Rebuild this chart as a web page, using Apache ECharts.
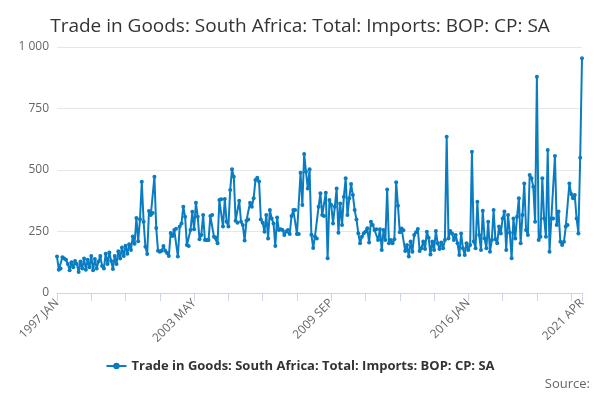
<!doctype html>
<html>
<head>
    <title>South Africa Imports</title>
    <script src="https://cdn.jsdelivr.net/npm/echarts@6/dist/echarts.min.js"></script>
</head>
<style>
    html, body { margin: 0; padding: 0; }
    #chart { width: 600px; height: 400px; }
</style>
<body>
<div id="chart"></div>
<script>
  // monthly series, 1997 JAN .. 2021 APR
  var startYear = 1997;
  var monthNames = ['JAN', 'FEB', 'MAR', 'APR', 'MAY', 'JUN', 'JUL', 'AUG', 'SEP', 'OCT', 'NOV', 'DEC'];
  var seriesName = 'Trade in Goods: South Africa: Total: Imports: BOP: CP: SA';
  var yTicks = [0, 250, 500, 750, 1000];

  var imports = [
    148, 95, 100, 145, 140, 135, 118, 92, 125, 105, 130, 118,
    85, 128, 100, 140, 95, 135, 105, 150, 92, 138, 100, 128,
    150, 110, 100, 160, 118, 165, 130, 98, 150, 118, 170, 140,
    185, 150, 192, 160, 198, 175, 230, 200, 305, 210, 300, 452,
    290, 188, 159, 333, 317, 325, 473, 264, 172, 168, 172, 191,
    172, 163, 150, 244, 232, 256, 261, 148, 270, 283, 351, 310,
    195, 191, 256, 330, 259, 367, 310, 218, 236, 317, 215, 215,
    215, 313, 317, 229, 226, 202, 378, 381, 270, 382, 290, 270,
    419, 503, 473, 294, 286, 375, 290, 276, 213, 294, 299, 367,
    351, 385, 459, 469, 453, 299, 286, 249, 317, 222, 337, 303,
    283, 191, 307, 256, 259, 256, 236, 250, 256, 240, 313, 337,
    337, 240, 240, 489, 358, 565, 493, 425, 503, 237, 183, 230,
    222, 351, 405, 317, 313, 408, 141, 378, 358, 283, 351, 425,
    245, 364, 276, 391, 466, 317, 385, 443, 398, 337, 299, 243,
    202, 229, 243, 249, 263, 205, 290, 276, 256, 259, 215, 259,
    175, 256, 215, 421, 202, 215, 202, 218, 450, 355, 247, 262,
    255, 171, 195, 148, 209, 168, 236, 247, 260, 171, 182, 209,
    179, 249, 225, 157, 209, 175, 252, 202, 179, 205, 182, 215,
    635, 222, 252, 242, 215, 236, 202, 154, 242, 182, 154, 202,
    175, 195, 574, 209, 182, 371, 236, 175, 334, 222, 182, 290,
    168, 215, 337, 218, 202, 270, 242, 303, 331, 175, 317, 245,
    141, 303, 222, 310, 385, 202, 317, 445, 256, 236, 480, 466,
    432, 290, 879, 215, 229, 466, 303, 229, 581, 168, 303, 303,
    557, 276, 331, 208, 195, 208, 270, 276, 445, 402, 385, 398,
    303, 242, 550, 954
  ];

  var months = [];
  for (var i = 0; i < imports.length; i++) {
    months.push((startYear + Math.floor(i / 12)) + ' ' + monthNames[i % 12]);
  }

  var myChart = echarts.init(document.getElementById('chart'));

  myChart.setOption({
    animation: false,
    title: {
      text: seriesName,
      left: 'center',
      top: 6,
      textStyle: {
        fontFamily: 'Open Sans',
        fontSize: 19,
        fontWeight: 'normal',
        color: '#333'
      }
    },
    legend: {
      bottom: 17,
      left: 'center',
      itemWidth: 20,
      itemHeight: 8,
      textStyle: {
        fontFamily: 'Open Sans',
        fontSize: 13,
        fontWeight: 'bold',
        color: '#333'
      },
      data: [seriesName]
    },
    graphic: [{
      type: 'text',
      right: 10,
      bottom: 5,
      style: {
        text: 'Source:',
        fontFamily: 'Open Sans',
        fontSize: 13,
        fill: '#666'
      }
    }],
    grid: {
      left: 57,
      right: 18,
      top: 47,
      bottom: 107
    },
    xAxis: {
      type: 'category',
      boundaryGap: false,
      data: months,
      axisLine: { lineStyle: { color: '#ccd6eb' } },
      axisTick: {
        interval: 18,
        length: 8,
        lineStyle: { color: '#ccd6eb' }
      },
      axisLabel: {
        interval: 75,
        showMaxLabel: true,
        rotate: 45,
        fontFamily: 'Open Sans',
        fontSize: 12,
        color: '#666'
      }
    },
    yAxis: {
      type: 'value',
      min: yTicks[0],
      max: yTicks[yTicks.length - 1],
      interval: 250,
      axisLine: { show: false },
      axisTick: { show: false },
      splitLine: { lineStyle: { color: '#e6e6e6' } },
      axisLabel: {
        fontFamily: 'Open Sans',
        fontSize: 12,
        color: '#666',
        formatter: function (v) {
          return String(v).replace(/\B(?=(\d{3})+(?!\d))/g, ' ');
        }
      }
    },
    series: [{
      name: seriesName,
      type: 'line',
      data: imports,
      symbol: 'circle',
      symbolSize: 4,
      showAllSymbol: true,
      lineStyle: { width: 2, color: '#0a7cc1' },
      itemStyle: { color: '#0a7cc1' }
    }]
  });
</script>
</body>
</html>
